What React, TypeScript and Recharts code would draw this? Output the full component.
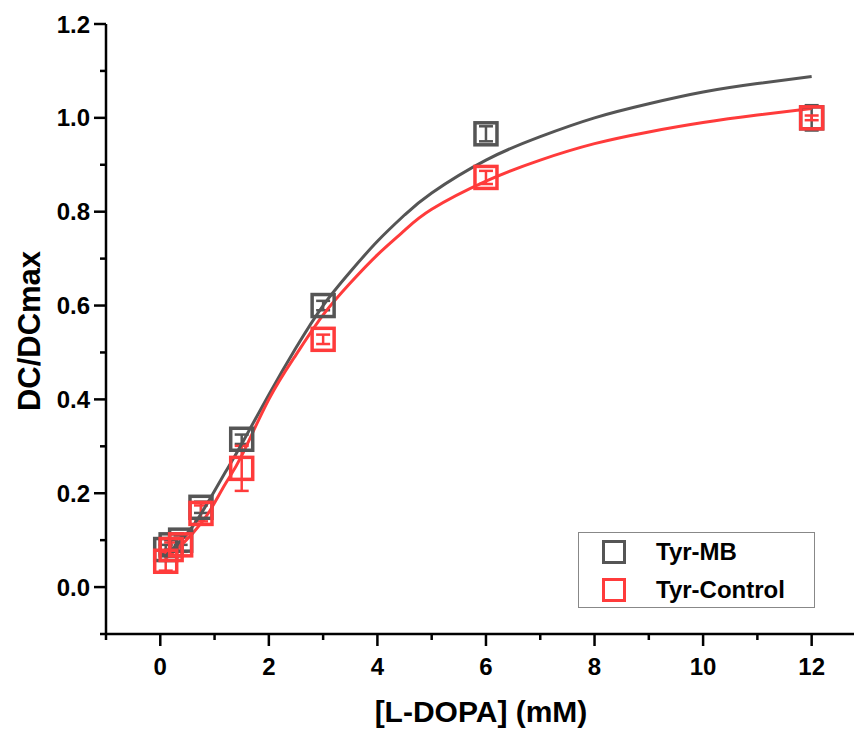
import React from 'react';
import {
  ComposedChart, Scatter, Line, XAxis, YAxis, ErrorBar,
} from 'recharts';

// measured points
const doseValues = [0.1, 0.2, 0.375, 0.75, 1.5, 3, 6, 12];
const mbValues = [0.08, 0.09, 0.1, 0.17, 0.315, 0.6, 0.966, 1.0];
const mbErrors = [0.01, 0.01, 0.01, 0.012, 0.01, 0.01, 0.016, 0.027];
const ctrlValues = [0.055, 0.08, 0.09, 0.157, 0.253, 0.528, 0.873, 1.0];
const ctrlErrors = [0.02, 0.015, 0.015, 0.017, 0.048, 0.01, 0.014, 0.005];

// fitted curves
const fitDose = [0.09, 0.3, 0.6, 0.9, 1.2, 1.5, 2, 2.5, 3, 3.5, 4, 4.5, 5, 6, 7, 8, 9, 10, 11, 12];
const mbFit = [0.065, 0.09, 0.13, 0.185, 0.245, 0.305, 0.41, 0.51, 0.6, 0.672, 0.737, 0.793, 0.84, 0.91, 0.96, 1.0, 1.03, 1.055, 1.073, 1.088];
const ctrlFit = [0.06, 0.08, 0.115, 0.16, 0.22, 0.28, 0.4, 0.495, 0.58, 0.648, 0.708, 0.76, 0.805, 0.865, 0.91, 0.945, 0.97, 0.99, 1.006, 1.02];

const xTicks = [-1, 0, 1, 2, 3, 4, 5, 6, 7, 8, 9, 10, 11, 12];
const yTicks = [-0.1, 0, 0.1, 0.2, 0.3, 0.4, 0.5, 0.6, 0.7, 0.8, 0.9, 1.0, 1.1, 1.2];

const GRAY = '#555555';
const RED = '#FF3B3B';
const FONT = 'Arial, "Liberation Sans", sans-serif';

const mbPoints = doseValues.map((x, i) => ({ x, y: mbValues[i], err: mbErrors[i] }));
const ctrlPoints = doseValues.map((x, i) => ({ x, y: ctrlValues[i], err: ctrlErrors[i] }));
const mbCurve = fitDose.map((x, i) => ({ x, y: mbFit[i] }));
const ctrlCurve = fitDose.map((x, i) => ({ x, y: ctrlFit[i] }));

const square = (color: string) => (props: any) => {
  const { cx, cy } = props;
  if (cx == null || cy == null) return <g />;
  return <rect x={cx - 11} y={cy - 11} width={22} height={22} fill="none" stroke={color} strokeWidth={3.5} />;
};

const XTick = (props: any) => {
  const { x, y, payload } = props;
  const v = payload.value;
  const major = Math.abs(v % 2) < 1e-6;
  return (
    <g>
      <line x1={x} x2={x} y1={y} y2={y + (major ? 12 : 6)} stroke="#000" strokeWidth={2.5} />
      {major && (
        <text x={x} y={y + 41} textAnchor="middle" fontFamily={FONT} fontWeight="bold" fontSize={24} fill="#000">
          {v}
        </text>
      )}
    </g>
  );
};

const YTick = (props: any) => {
  const { x, y, payload } = props;
  const v = payload.value;
  const major = Math.abs(Math.round(v * 10) % 2) === 0;
  return (
    <g>
      <line x1={x} x2={x - (major ? 12 : 6)} y1={y} y2={y} stroke="#000" strokeWidth={2.5} />
      {major && (
        <text x={x - 16} y={y + 8.5} textAnchor="end" fontFamily={FONT} fontWeight="bold" fontSize={24} fill="#000">
          {v.toFixed(1)}
        </text>
      )}
    </g>
  );
};

const LegendRow = ({ color, label }: { color: string; label: string }) => (
  <div style={{ display: 'flex', alignItems: 'center', height: 38 }}>
    <div style={{ width: 18, height: 18, border: `3.5px solid ${color}`, marginLeft: 23, marginRight: 30 }} />
    <span style={{ fontFamily: FONT, fontWeight: 'bold', fontSize: 24, color: '#000' }}>{label}</span>
  </div>
);

export default function App() {
  return (
    <div style={{ position: 'absolute', left: 0, top: 0, width: 854, height: 731, background: '#fff' }}>
      <ComposedChart width={854} height={731} margin={{ top: 24, right: 0, bottom: 0, left: 0 }}>
        <XAxis
          type="number"
          dataKey="x"
          domain={[-1, 12.78]}
          ticks={xTicks}
          interval={0}
          allowDataOverflow
          height={97}
          tickSize={0}
          tickMargin={0}
          tickLine={false}
          axisLine={{ stroke: '#000', strokeWidth: 2.5 }}
          tick={<XTick />}
          label={{
            content: (p: any) => {
              const vb = p.viewBox;
              return (
                <text x={vb.x + (481 - 106)} y={vb.y + 88} textAnchor="middle" fontFamily={FONT} fontWeight="bold" fontSize={30} fill="#000">
                  [L-DOPA] (mM)
                </text>
              );
            },
          }}
        />
        <YAxis
          type="number"
          dataKey="y"
          domain={[-0.1, 1.2]}
          ticks={yTicks}
          interval={0}
          allowDataOverflow
          width={106}
          tickSize={0}
          tickMargin={0}
          tickLine={false}
          axisLine={{ stroke: '#000', strokeWidth: 2.5 }}
          tick={<YTick />}
          label={{
            content: () => {
              const cx = 29;
              const cy = 331;
              return (
                <text x={cx} y={cy} transform={`rotate(-90 ${cx} ${cy})`} textAnchor="middle" dominantBaseline="central" fontFamily={FONT} fontWeight="bold" fontSize={31} fill="#000">
                  DC/DCmax
                </text>
              );
            },
          }}
        />
        <Scatter data={mbPoints} fill={GRAY} shape={square(GRAY)} isAnimationActive={false}>
          <ErrorBar dataKey="err" direction="y" width={7} stroke={GRAY} strokeWidth={2.5} />
        </Scatter>
        <Scatter data={ctrlPoints} fill={RED} shape={square(RED)} isAnimationActive={false}>
          <ErrorBar dataKey="err" direction="y" width={7} stroke={RED} strokeWidth={2.5} />
        </Scatter>
        <Line data={mbCurve} dataKey="y" type="natural" stroke={GRAY} strokeWidth={3} dot={false} isAnimationActive={false} />
        <Line data={ctrlCurve} dataKey="y" type="natural" stroke={RED} strokeWidth={3} dot={false} isAnimationActive={false} />
      </ComposedChart>
      <div
        style={{
          position: 'absolute', left: 578, top: 532, width: 235, height: 74,
          border: '1.5px solid #888', background: '#fff', boxSizing: 'content-box',
        }}
      >
        <LegendRow color={GRAY} label="Tyr-MB" />
        <LegendRow color={RED} label="Tyr-Control" />
      </div>
    </div>
  );
}
